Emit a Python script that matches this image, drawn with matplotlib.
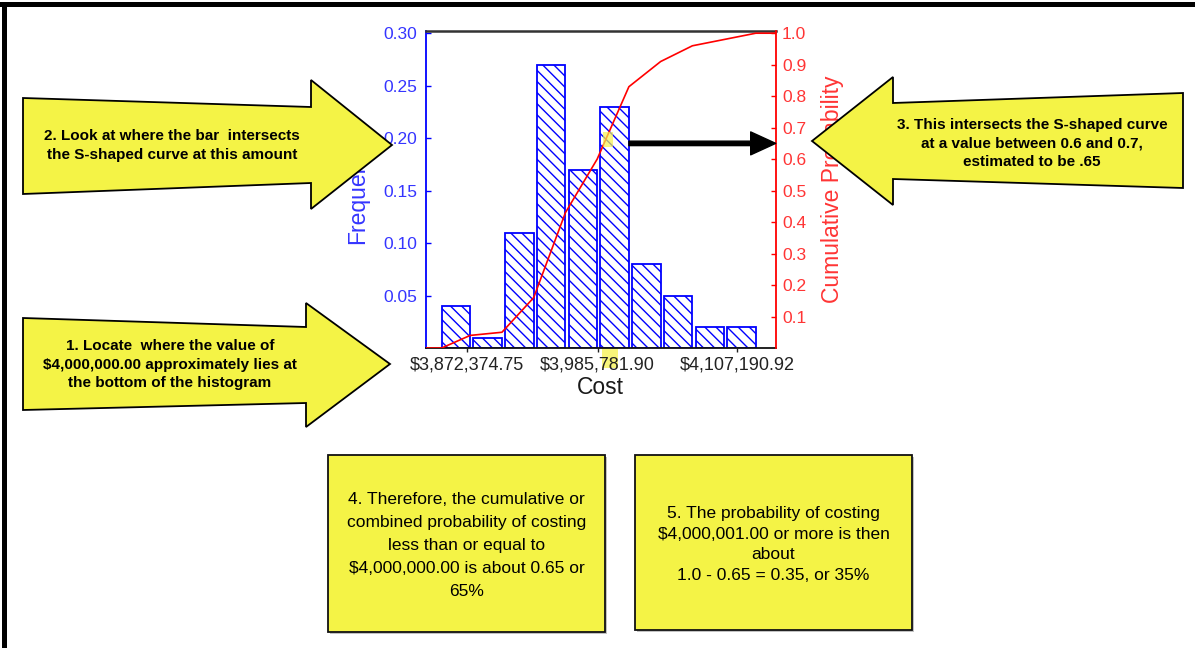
import matplotlib
matplotlib.use('Agg')
import matplotlib.pyplot as plt
import matplotlib.patches as patches
import matplotlib.ticker as ticker
import numpy as np

plt.rcParams['font.family'] = ['Liberation Sans', 'DejaVu Sans']
plt.rcParams['hatch.linewidth'] = 1.0

# histogram of simulated cost: bin centres ($) and relative frequency
bin_mid = [3862500, 3890100, 3917700, 3945300, 3972900,
           4000500, 4028100, 4055700, 4083300, 4110900]
freq = [0.04, 0.01, 0.11, 0.27, 0.17, 0.23, 0.08, 0.05, 0.02, 0.02]
# cumulative probability, first point at the low edge of bar 1, then the top edge of each bar
cum_prob = [0.0, 0.04, 0.05, 0.16, 0.43, 0.60, 0.83, 0.91, 0.96, 0.98, 1.0]
cost_ticks = [3872374.75, 3985781.90, 4107190.92]
freq_ticks = [0.05, 0.10, 0.15, 0.20, 0.25, 0.30]
cum_ticks = [0.1, 0.2, 0.3, 0.4, 0.5, 0.6, 0.7, 0.8, 0.9, 1.0]
est_prob = 0.65
target_bar = 5   # the bar that holds $4,000,000

W, H = 1195, 648
YEL = '#F4F346'
BLUE_TXT = '#3535ff'
RED_TXT = '#ff3535'
BSL = chr(92)

fig = plt.figure(figsize=(W / 100, H / 100), dpi=100)
fig.patch.set_facecolor('white')

# main histogram axes
ax = fig.add_axes([425.7 / W, 1 - 348 / H, 350 / W, 317 / H])
bar_w = 0.9 * (bin_mid[1] - bin_mid[0])
ax.bar(bin_mid, freq, width=bar_w, facecolor='white', edgecolor='blue',
       hatch=BSL * 3, linewidth=1.3, zorder=2)
ax.set_xlim(3836200, 4140600)
ax.set_ylim(0, 0.302)
ax.set_xticks(cost_ticks)
ax.xaxis.set_major_formatter(ticker.FuncFormatter(lambda v, p: '${:,.2f}'.format(v)))
ax.set_yticks(freq_ticks)
ax.yaxis.set_major_formatter(ticker.FormatStrFormatter('%.2f'))
ax.tick_params(axis='y', direction='in', length=3.5, width=1, colors='blue',
               labelcolor=BLUE_TXT, labelsize=12.5, pad=6)
ax.tick_params(axis='x', direction='out', length=3, width=1, colors='#222222',
               labelsize=13, pad=3)
ax.spines['left'].set_color('blue')
ax.spines['left'].set_linewidth(1.3)
ax.spines['right'].set_visible(False)
ax.spines['top'].set_color('#333333')
ax.spines['top'].set_linewidth(1.8)
ax.spines['bottom'].set_color('#111111')
ax.spines['bottom'].set_linewidth(1.3)
ax.set_xlabel('Cost', fontsize=16.5, color='#1a1a1a', labelpad=2)
ax.set_ylabel('Frequency', fontsize=16.5, color=BLUE_TXT, labelpad=10.5)

# cumulative probability on the right axis
ax2 = ax.twinx()
ax2.set_ylim(0, 1.007)
ax2.set_yticks(cum_ticks)
ax2.yaxis.set_major_formatter(ticker.FormatStrFormatter('%.1f'))
ax2.tick_params(axis='y', direction='in', length=3.5, width=1, colors='red',
                labelcolor=RED_TXT, labelsize=12.5, pad=4.5)
for s in ['left', 'top', 'bottom']:
    ax2.spines[s].set_visible(False)
ax2.spines['right'].set_color('red')
ax2.spines['right'].set_linewidth(1.3)
ax2.set_ylabel('Cumulative Probability', fontsize=16.5, color=RED_TXT,
               rotation=90, labelpad=11)

x0, x1 = ax.get_xlim()
cum_x = [bin_mid[0] - bar_w / 2] + [m + bar_w / 2 for m in bin_mid]
ax2.plot([x0] + cum_x + [x1], [0.0] + cum_prob + [cum_prob[-1]],
         color='red', linewidth=1.2, zorder=3)

# black arrow from the $4M bar to the cumulative axis
ax2.annotate('', xy=(x1, est_prob), xytext=(bin_mid[target_bar] + bar_w / 2, est_prob),
             arrowprops=dict(facecolor='black', edgecolor='black', width=3.2,
                             headwidth=16.5, headlength=18, shrink=0),
             annotation_clip=False)

# faint yellow highlight under the middle cost label
fig.add_artist(patches.Rectangle((601.7 / W, 1 - 368 / H), 16.6 / W, 20 / H,
                                 transform=fig.transFigure, facecolor='#f8f57a',
                                 edgecolor='none', zorder=-1))

# overlay in pixel coordinates for the callouts
ov = fig.add_axes([0, 0, 1, 1], zorder=10)
ov.set_xlim(0, W)
ov.set_ylim(H, 0)
ov.axis('off')
ov.patch.set_alpha(0)

# small highlight where the bar meets the curve
ov.add_patch(patches.Rectangle((603, 132), 10, 15, facecolor='#f5f250',
                               edgecolor='none', alpha=0.7))

# page border
ov.add_patch(patches.Rectangle((0, 1.5), W, 5.5, facecolor='black', edgecolor='none'))
ov.add_patch(patches.Rectangle((2.5, 1.5), 4.5, H, facecolor='black', edgecolor='none'))


def text_lines(lines, cx, cy, dy, **kw):
    # even line spacing, one text per line
    n = len(lines)
    for i, s in enumerate(lines):
        ov.text(cx, cy + (i - (n - 1) / 2) * dy, s, ha='center',
                va='center_baseline', **kw)


def block_arrow(pts, lines, tx, ty):
    ov.add_patch(patches.Polygon(pts, closed=True, facecolor=YEL, edgecolor='black',
                                 linewidth=1.3, joinstyle='miter'))
    text_lines(lines, tx, ty, 18.3, fontsize=11, fontweight='bold', color='black')


def note_box(x, y, w, h, lines, ty, dy):
    ov.add_patch(patches.Rectangle((x + 2, y + 2), w, h, facecolor='#9a9a9a',
                                   edgecolor='none', alpha=0.6))
    ov.add_patch(patches.Rectangle((x, y), w, h, facecolor=YEL, edgecolor='#111111',
                                   linewidth=1.3))
    text_lines(lines, x + w / 2, ty, dy, fontsize=12.5, color='black')


block_arrow([(23, 98), (311, 107), (311, 80), (392, 145), (311, 209), (311, 183), (23, 194)],
            ['2. Look at where the bar  intersects', 'the S-shaped curve at this amount'],
            172, 144)
block_arrow([(23, 318), (306, 327), (306, 303), (390, 364), (306, 427), (306, 403), (23, 410)],
            ['1. Locate  where the value of', '$4,000,000.00 approximately lies at',
             'the bottom of the histogram'],
            170, 363)
block_arrow([(812, 141), (893, 77), (893, 103), (1183, 93), (1183, 188), (893, 179), (893, 205)],
            ['3. This intersects the S-shaped curve', 'at a value between 0.6 and 0.7,',
             'estimated to be .65'],
            1032, 142)

note_box(328, 455, 277, 177,
         ['4. Therefore, the cumulative or', 'combined probability of costing',
          'less than or equal to', '$4,000,000.00 is about 0.65 or', '65%'], 544, 23.2)
note_box(635, 455, 277, 175,
         ['5. The probability of costing', '$4,000,001.00 or more is then', 'about',
          '1.0 - 0.65 = 0.35, or 35%'], 543, 20.7)

fig.savefig('out.png', dpi=100)
